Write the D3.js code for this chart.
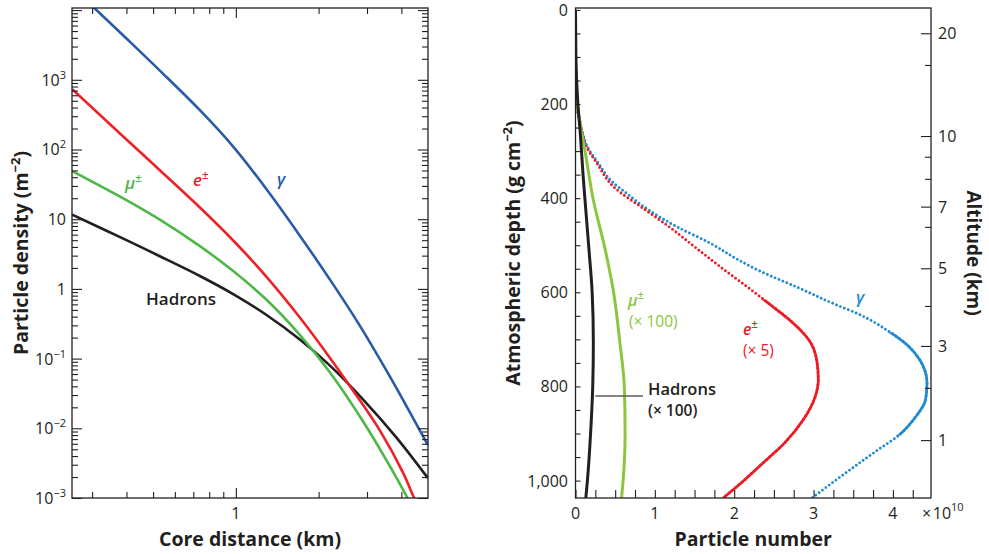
<!DOCTYPE html>
<html><head><meta charset="utf-8">
<script src="https://cdn.jsdelivr.net/npm/d3@7"></script>
<style>
body{margin:0;background:#fff;}
svg{display:block;font-family:"Open Sans",sans-serif;}
</style></head><body>
<svg id="c" width="989" height="554"></svg>
<script>
// ---------------- DATA ----------------
// Left panel: lateral distribution (core distance in km, density in m^-2)
const gammaDistance    = [0.302, 0.40, 0.529, 0.74, 0.978, 1.293, 1.709, 2.259, 2.824, 3.532, 4.293, 4.99];
const gammaDensity     = [11200, 3908, 1355, 366, 110, 26.9, 5.81, 1.16, 0.297, 0.067, 0.01706, 0.0058];
const electronDistance = [0.254, 0.40, 0.529, 0.74, 0.978, 1.293, 1.709, 2.2, 2.67, 3.34, 4.06, 4.45, 4.77];
const electronDensity  = [733, 139, 50.4, 14.7, 4.95, 1.49, 0.388, 0.102, 0.0347, 0.00933, 0.00229, 0.001, 0.00056];
const muonDistance     = [0.254, 0.40, 0.529, 0.74, 0.978, 1.293, 1.709, 2.2, 2.90, 3.84, 4.20, 4.35];
const muonDensity      = [49, 18.8, 9.86, 4.11, 1.80, 0.698, 0.219, 0.0631, 0.0126, 0.00195, 0.00102, 0.00079];
const hadronDistance   = [0.254, 0.40, 0.529, 0.74, 0.978, 1.293, 1.709, 2.2, 2.90, 3.84, 4.99];
const hadronDensity    = [11.6, 5.0, 2.94, 1.53, 0.841, 0.422, 0.188, 0.0794, 0.0261, 0.00735, 0.00194];

const densityTicks     = [1e-3, 1e-2, 1e-1, 1, 10, 100, 1000];
const densityTickBase  = ["10", "10", "10", "1", "10", "10", "10"];
const densityTickExp   = ["\u22123", "\u22122", "\u22121", "", "", "2", "3"];
const distanceLabelTicks = [1];

// Right panel: longitudinal development (depth in g cm^-2, particle number in 1e10)
const gammaDepth     = [200, 248, 291, 326, 365, 390, 425, 461, 496, 531, 553, 592, 627, 645, 680, 712, 744, 793, 829, 864, 903, 935, 977, 1013, 1037];
const gammaNumber    = [0, 0.07, 0.15, 0.29, 0.46, 0.645, 0.92, 1.28, 1.70, 2.05, 2.30, 2.83, 3.29, 3.55, 3.92, 4.18, 4.34, 4.43, 4.41, 4.29, 4.08, 3.81, 3.46, 3.17, 2.98];
const electronDepth  = [149, 212, 248, 291, 326, 376, 425, 461, 510, 553, 588, 627, 662, 701, 744, 786, 822, 871, 921, 963, 1006, 1037];
const electronNumber = [0, 0.035, 0.07, 0.14, 0.27, 0.48, 0.88, 1.18, 1.55, 1.88, 2.16, 2.46, 2.72, 2.94, 3.04, 3.06, 3.02, 2.87, 2.63, 2.36, 2.08, 1.86];
const muonDepth      = [150, 200, 241, 300, 404, 510, 600, 708, 800, 900, 1000, 1037];
const muonNumber     = [0, 0.02, 0.057, 0.12, 0.225, 0.375, 0.48, 0.56, 0.615, 0.625, 0.60, 0.58];
const hadronDepth    = [0, 100, 200, 262, 350, 404, 510, 600, 708, 800, 900, 1000, 1037];
const hadronNumber   = [0, 0.005, 0.03, 0.06, 0.095, 0.12, 0.17, 0.21, 0.225, 0.217, 0.19, 0.15, 0.13];

const depthTicks        = [0, 200, 400, 600, 800, 1000];
const numberTicks       = [0, 1, 2, 3, 4];
const altitudeTicks     = [20, 10, 7, 5, 3, 1];
const altitudeTickDepth = [49.7, 268, 418, 549, 714, 914];
const altitudeMinorDepth = [117, 312, 359, 461, 629, 803];

// ---------------- STYLE ----------------
const ink = "#231f20";
const cBlueL = "#2a5ba9", cRedL = "#ec2227", cGreenL = "#4db848", cBlackL = "#231f20";
const cBlueR = "#1f8bd1", cRedR = "#ec1c24", cGreenR = "#8cc63f", cBlackR = "#231f20";

const svg = d3.select("#c");
const defs = svg.append("defs");

function zip(xs, ys){ return xs.map((x,i)=>[x, ys[i]]); }

// ================= LEFT PANEL =================
const L = {x0:72, x1:428, y0:8, y1:498};
const xL = d3.scaleLog().domain([0.2535, 5]).range([L.x0, L.x1]);
const yL = d3.scaleLog().domain([1e-3, Math.pow(10, 4.03)]).range([L.y1, L.y0]);

defs.append("clipPath").attr("id","clipL").append("rect")
  .attr("x",L.x0).attr("y",L.y0).attr("width",L.x1-L.x0).attr("height",L.y1-L.y0);

const gL = svg.append("g");
const lineL = d3.line().x(d=>xL(d[0])).y(d=>yL(d[1])).curve(d3.curveCatmullRom.alpha(0.5));
const curvesL = [
  [zip(hadronDistance, hadronDensity), cBlackL],
  [zip(muonDistance, muonDensity), cGreenL],
  [zip(electronDistance, electronDensity), cRedL],
  [zip(gammaDistance, gammaDensity), cBlueL]
];
gL.append("g").attr("clip-path","url(#clipL)").selectAll("path").data(curvesL).join("path")
  .attr("d", d=>lineL(d[0])).attr("fill","none").attr("stroke", d=>d[1]).attr("stroke-width",2.6);

// ticks
const yMinor = yL.ticks().filter(v => Math.abs(Math.log10(v) - Math.round(Math.log10(v))) > 1e-6);
const yMajor = yL.ticks().filter(v => Math.abs(Math.log10(v) - Math.round(Math.log10(v))) <= 1e-6);
const xAll = xL.ticks();
const xMajor = xAll.filter(v => Math.abs(v-1) < 1e-9);
const xMinor = xAll.filter(v => Math.abs(v-1) >= 1e-9 && v < 4.99);

function tickAxis(g, axis){ g.call(axis).call(s=>s.select(".domain").remove()).selectAll("line").attr("stroke",ink).attr("stroke-width",1.1); }
tickAxis(gL.append("g").attr("transform",`translate(${L.x0},0)`), d3.axisLeft(yL).tickValues(yMajor).tickSize(-10).tickFormat(""));
tickAxis(gL.append("g").attr("transform",`translate(${L.x0},0)`), d3.axisLeft(yL).tickValues(yMinor).tickSize(-6).tickFormat(""));
tickAxis(gL.append("g").attr("transform",`translate(${L.x1},0)`), d3.axisRight(yL).tickValues(yMajor).tickSize(-10).tickFormat(""));
tickAxis(gL.append("g").attr("transform",`translate(${L.x1},0)`), d3.axisRight(yL).tickValues(yMinor).tickSize(-6).tickFormat(""));
tickAxis(gL.append("g").attr("transform",`translate(0,${L.y1})`), d3.axisBottom(xL).tickValues(xMajor).tickSize(-10).tickFormat(""));
tickAxis(gL.append("g").attr("transform",`translate(0,${L.y1})`), d3.axisBottom(xL).tickValues(xMinor).tickSize(-6).tickFormat(""));
tickAxis(gL.append("g").attr("transform",`translate(0,${L.y0})`), d3.axisTop(xL).tickValues(xMajor).tickSize(-10).tickFormat(""));
tickAxis(gL.append("g").attr("transform",`translate(0,${L.y0})`), d3.axisTop(xL).tickValues(xMinor).tickSize(-6).tickFormat(""));

gL.append("rect").attr("x",L.x0).attr("y",L.y0).attr("width",L.x1-L.x0).attr("height",L.y1-L.y0)
  .attr("fill","none").attr("stroke",ink).attr("stroke-width",1.3);

// tick labels
densityTicks.forEach((v,i)=>{
  const t = gL.append("text").attr("x",66).attr("y",yL(v)+6).attr("text-anchor","end")
    .attr("font-size",16).attr("fill",ink);
  t.append("tspan").text(densityTickBase[i]);
  if (densityTickExp[i]) t.append("tspan").attr("font-size",11).attr("dy",-7).text(densityTickExp[i]);
});
distanceLabelTicks.forEach(v=>{
  gL.append("text").attr("x",xL(v)).attr("y",519).attr("text-anchor","middle")
    .attr("font-size",16).attr("fill",ink).text(String(v));
});

// titles
gL.append("text").attr("x",(L.x0+L.x1)/2).attr("y",546).attr("text-anchor","middle")
  .attr("font-size",19.5).attr("font-weight",700).attr("fill",ink).text("Core distance (km)");
const tyL = gL.append("text").attr("transform",`translate(28,${(L.y0+L.y1)/2}) rotate(-90)`)
  .attr("text-anchor","middle").attr("font-size",19.5).attr("font-weight",700).attr("fill",ink);
tyL.append("tspan").text("Particle density (m");
tyL.append("tspan").attr("font-size",13).attr("dy",-8).text("\u22122");
tyL.append("tspan").attr("dy",8).text(")");

// curve labels
function supLabel(g, x, y, base, sup, color, size){
  const t = g.append("text").attr("x",x).attr("y",y).attr("font-size",size).attr("fill",color)
    .attr("font-style","italic").attr("font-weight",600);
  t.append("tspan").text(base);
  if (sup) t.append("tspan").attr("font-size",size*0.68).attr("font-style","normal").attr("dy",-size*0.42).text(sup);
  return t;
}
supLabel(gL, 125, 189, "\u03bc", "\u00b1", cGreenL, 17);
supLabel(gL, 193, 186, "e", "\u00b1", cRedL, 17);
supLabel(gL, 277, 185, "\u03b3", "", cBlueL, 17);
gL.append("text").attr("x",146).attr("y",305).attr("font-size",17).attr("font-weight",600)
  .attr("fill",ink).text("Hadrons");

// ================= RIGHT PANEL =================
const R = {x0:575.5, x1:931, y0:8, y1:498};
const xR = d3.scaleLinear().domain([0, 4.48]).range([R.x0, R.x1]);
const yR = d3.scaleLinear().domain([-4, 1037]).range([R.y0, R.y1]);

defs.append("clipPath").attr("id","clipR").append("rect")
  .attr("x",R.x0).attr("y",R.y0).attr("width",R.x1-R.x0).attr("height",R.y1-R.y0);
defs.append("clipPath").attr("id","solidE").append("rect")
  .attr("x",R.x0).attr("y",yR(615)).attr("width",R.x1-R.x0).attr("height",R.y1-yR(615));
defs.append("clipPath").attr("id","solidG").append("rect")
  .attr("x",R.x0).attr("y",yR(685)).attr("width",R.x1-R.x0).attr("height",yR(905)-yR(685));

const gR = svg.append("g");
const lineR = d3.line().x(d=>xR(d[1])).y(d=>yR(d[0])).curve(d3.curveMonotoneY);
const cg = gR.append("g").attr("clip-path","url(#clipR)");

const eData = zip(electronDepth, electronNumber);
const gData = zip(gammaDepth, gammaNumber);
// dotted gamma and electron curves (solid where the dots merge)
[[gData, cBlueR, "solidG"], [eData, cRedR, "solidE"]].forEach(([d, col, clip])=>{
  cg.append("path").attr("d", lineR(d)).attr("fill","none").attr("stroke",col)
    .attr("stroke-width",2.9).attr("stroke-linecap","round").attr("stroke-dasharray","0 4.2");
  cg.append("g").attr("clip-path",`url(#${clip})`).append("path").attr("d", lineR(d))
    .attr("fill","none").attr("stroke",col).attr("stroke-width",2.7);
});
cg.append("path").attr("d", lineR(zip(muonDepth, muonNumber))).attr("fill","none")
  .attr("stroke",cGreenR).attr("stroke-width",3);
cg.append("path").attr("d", lineR(zip(hadronDepth, hadronNumber))).attr("fill","none")
  .attr("stroke",cBlackR).attr("stroke-width",3);

// ticks
tickAxis(gR.append("g").attr("transform",`translate(${R.x0},0)`),
  d3.axisLeft(yR).tickValues(d3.range(0, 1001, 50)).tickSize(-5).tickFormat(""));
tickAxis(gR.append("g").attr("transform",`translate(0,${R.y1})`),
  d3.axisBottom(xR).tickValues(d3.range(0, 4.3, 0.25)).tickSize(-8).tickFormat(""));
tickAxis(gR.append("g").attr("transform",`translate(${R.x1},0)`),
  d3.axisRight(yR).tickValues(altitudeTickDepth).tickSize(-10).tickFormat(""));
tickAxis(gR.append("g").attr("transform",`translate(${R.x1},0)`),
  d3.axisRight(yR).tickValues(altitudeMinorDepth).tickSize(-6).tickFormat(""));

gR.append("rect").attr("x",R.x0).attr("y",R.y0).attr("width",R.x1-R.x0).attr("height",R.y1-R.y0)
  .attr("fill","none").attr("stroke",ink).attr("stroke-width",1.3);

// tick labels
const fmt = d3.format(",");
depthTicks.forEach(v=>{
  gR.append("text").attr("x",568).attr("y",yR(v)+6).attr("text-anchor","end")
    .attr("font-size",16).attr("fill",ink).text(fmt(v));
});
numberTicks.forEach(v=>{
  gR.append("text").attr("x",xR(v)).attr("y",519).attr("text-anchor","middle")
    .attr("font-size",16).attr("fill",ink).text(String(v));
});
altitudeTicks.forEach((v,i)=>{
  gR.append("text").attr("x",938).attr("y",yR(altitudeTickDepth[i])+6)
    .attr("font-size",16).attr("fill",ink).text(String(v));
});
const mult = gR.append("text").attr("x",922).attr("y",519).attr("font-size",16).attr("fill",ink);
mult.append("tspan").text("\u00d7\u200a10");
mult.append("tspan").attr("font-size",11).attr("dy",-8).text("10");

// titles
gR.append("text").attr("x",(R.x0+R.x1)/2).attr("y",546).attr("text-anchor","middle")
  .attr("font-size",19.5).attr("font-weight",700).attr("fill",ink).text("Particle number");
const tyR = gR.append("text").attr("transform",`translate(520,${(R.y0+R.y1)/2}) rotate(-90)`)
  .attr("text-anchor","middle").attr("font-size",19.5).attr("font-weight",700).attr("fill",ink);
tyR.append("tspan").text("Atmospheric depth (g cm");
tyR.append("tspan").attr("font-size",13).attr("dy",-8).text("\u22122");
tyR.append("tspan").attr("dy",8).text(")");
gR.append("text").attr("transform",`translate(967,${(R.y0+R.y1)/2}) rotate(90)`)
  .attr("text-anchor","middle").attr("font-size",19).attr("font-weight",700).attr("fill",ink)
  .text("Altitude (km)");

// curve labels
supLabel(gR, 628, 306, "\u03bc", "\u00b1", cGreenR, 16);
gR.append("text").attr("x",629).attr("y",327).attr("font-size",15.5).attr("fill",cGreenR).text("(\u00d7 100)");
supLabel(gR, 743, 335, "e", "\u00b1", cRedR, 16);
gR.append("text").attr("x",743).attr("y",356).attr("font-size",15.5).attr("fill",cRedR).text("(\u00d7 5)");
supLabel(gR, 856, 303, "\u03b3", "", cBlueR, 17);
gR.append("text").attr("x",648).attr("y",395).attr("font-size",16.5).attr("font-weight",600)
  .attr("fill",ink).text("Hadrons");
gR.append("text").attr("x",648).attr("y",416).attr("font-size",15.5).attr("font-weight",600)
  .attr("fill",ink).text("(\u00d7 100)");
gR.append("line").attr("x1",xR(0.25)).attr("x2",643).attr("y1",396).attr("y2",396)
  .attr("stroke","#5b5b5e").attr("stroke-width",1.3);
</script>
</body></html>
